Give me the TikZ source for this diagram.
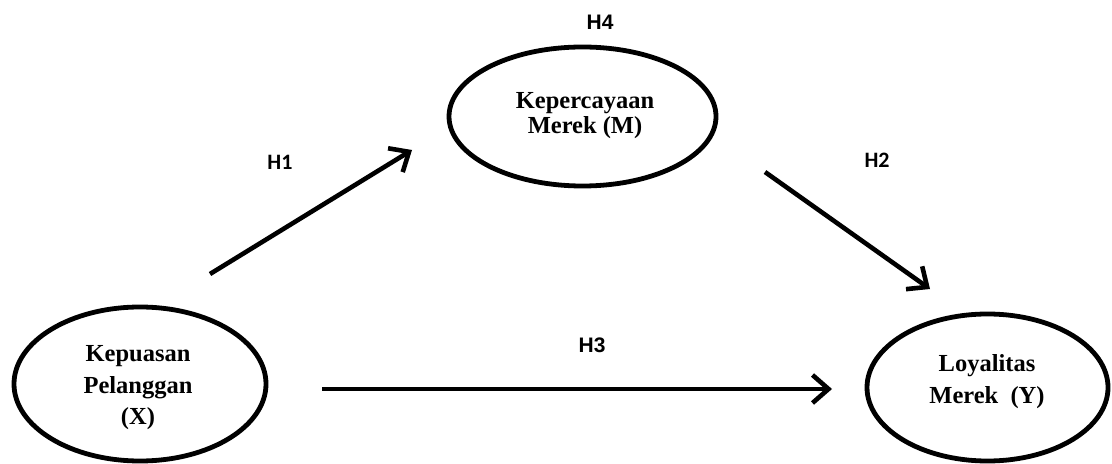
\documentclass[tikz,border=0pt]{standalone}
\usepackage{fontspec}
\setmainfont{Liberation Serif}
\newfontfamily\carlito{Carlito}
\newfontfamily\arialf{Liberation Sans}
\usetikzlibrary{shapes.geometric,arrows.meta}
\begin{document}
\begin{tikzpicture}[x=0.5pt,y=-0.5pt,
  ell/.style={draw=black,line width=2.4pt,ellipse,inner sep=0pt},
  txt/.style={align=center,inner sep=0pt,font=\fontsize{12.25}{15.75}\selectfont\bfseries},
  conn/.style={line width=2.3pt,-{Straight Barb[length=8pt,width=14pt,line width=2.3pt]}},
  hlab/.style={font=\carlito\fontsize{11}{13}\selectfont\bfseries,inner sep=0pt},
  hlabA/.style={font=\arialf\fontsize{10.5}{13}\selectfont\bfseries,inner sep=0pt}]
\useasboundingbox (0,0) rectangle (1112,464);
\node[ell,minimum width=126pt,minimum height=77pt] (X) at (140,384) {};
\node[ell,minimum width=133.5pt,minimum height=69.5pt] (M) at (582.5,116.5) {};
\node[ell,minimum width=120.5pt,minimum height=73.5pt] (Y) at (987.5,387.5) {};
\node[txt] (Xt) at (138,388) {Kepuasan\\Pelanggan\\(X)};
\node[txt,font=\fontsize{12.25}{12.5}\selectfont\bfseries] (Mt) at (585,116) {Kepercayaan\\Merek (M)};
\node[txt,font=\fontsize{12.25}{16}\selectfont\bfseries] (Yt) at (987,382) {Loyalitas\\Merek\ \ (Y)};
\coordinate (h1s) at (210,274);
\coordinate (h1e) at (412,150);
\coordinate (h2s) at (765,172);
\coordinate (h2e) at (930,289);
\coordinate (h3s) at (322,389);
\coordinate (h3e) at (832,389);
\draw[conn] (h1s) -- (h1e);
\draw[conn] (h2s) -- (h2e);
\draw[conn] (h3s) -- (h3e);
\node[hlabA] (l4) at (600,22) {H4};
\node[hlab] (l1) at (280,162) {H1};
\node[hlab] (l2) at (877,160) {H2};
\node[hlabA] (l3) at (592,345) {H3};
\end{tikzpicture}
\end{document}
